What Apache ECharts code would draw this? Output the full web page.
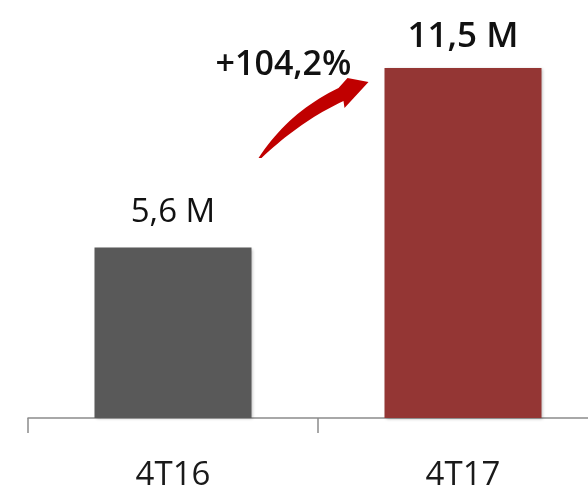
<!DOCTYPE html>
<html><head><meta charset="utf-8">
<script src="https://cdn.jsdelivr.net/npm/echarts@6/dist/echarts.min.js"></script>
<style>html,body{margin:0;padding:0;background:#fff}#c{width:588px;height:488px}</style>
</head><body><div id="c"></div>
<script>
const categories = ['4T16', '4T17'];
const values = [5.6, 11.5];
const valueLabels = ['5,6 M', '11,5 M'];
const barColors = ['#595959', '#943634'];
const growthLabel = '+104,2%';

const chart = echarts.init(document.getElementById('c'));
const FONT = '"Open Sans", "Noto Sans", sans-serif';
chart.setOption({
  animation: false,
  grid: { left: 28, width: 580, top: 52.8, height: 365.2, outerBoundsMode: 'none', containLabel: false },
  xAxis: {
    type: 'category', data: categories, boundaryGap: true,
    axisLine: { lineStyle: { color: '#8c8c8c', width: 1.5 } },
    axisTick: { show: true, interval: 0, length: 15, lineStyle: { color: '#8c8c8c', width: 1.5 } },
    axisLabel: { margin: 41, fontSize: 33, color: '#1a1a1a', fontFamily: FONT }
  },
  yAxis: { type: 'value', min: 0, max: 12, show: false, splitLine: { show: false } },
  series: [{
    type: 'bar', barWidth: 157,
    data: values.map((v, i) => ({
      value: v,
      itemStyle: { color: barColors[i], shadowColor: 'rgba(0,0,0,0.25)', shadowBlur: 3, shadowOffsetX: 1, shadowOffsetY: 1 },
      label: {
        show: true, position: 'top', distance: i === 1 ? 13 : 18,
        formatter: valueLabels[i], fontSize: i === 1 ? 35 : 33, fontFamily: FONT,
        color: '#111', fontWeight: i === 1 ? 600 : 'normal'
      }
    }))
  }]
});

function quad(a, c, b, n) {
  const pts = [];
  for (let k = 0; k <= n; k++) {
    const t = k / n, s = 1 - t;
    pts.push([s * s * a[0] + 2 * s * t * c[0] + t * t * b[0], s * s * a[1] + 2 * s * t * c[1] + t * t * b[1]]);
  }
  return pts;
}

function drawArrow() {
  const p = chart.convertToPixel({ seriesIndex: 0 }, [1, values[1]]); // top center of bar 2
  const bx = p[0] - 78.5, by = p[1]; // top-left corner of bar 2
  const o = (dx, dy) => [bx + dx, by + dy];
  const tail = o(-126, 90), u1 = o(-46, 20), hA = o(-37, 10), tip = o(-16, 14), hB = o(-40, 40), l1 = o(-41, 33);
  const cu = o(-96, 44), cl = o(-84, 53), tail2 = o(-123, 90);
  const pts = quad(tail, cu, u1, 20).concat([hA, tip, hB]).concat(quad(l1, cl, tail2, 20));
  chart.setOption({
    graphic: [
      { type: 'polygon', shape: { points: pts }, style: { fill: '#c00000' } },
      { type: 'text', x: bx - 101, y: by - 3, style: { text: growthLabel, font: '600 34px ' + FONT, fill: '#111', align: 'center', verticalAlign: 'middle' } }
    ]
  });
}
drawArrow();
</script></body></html>
